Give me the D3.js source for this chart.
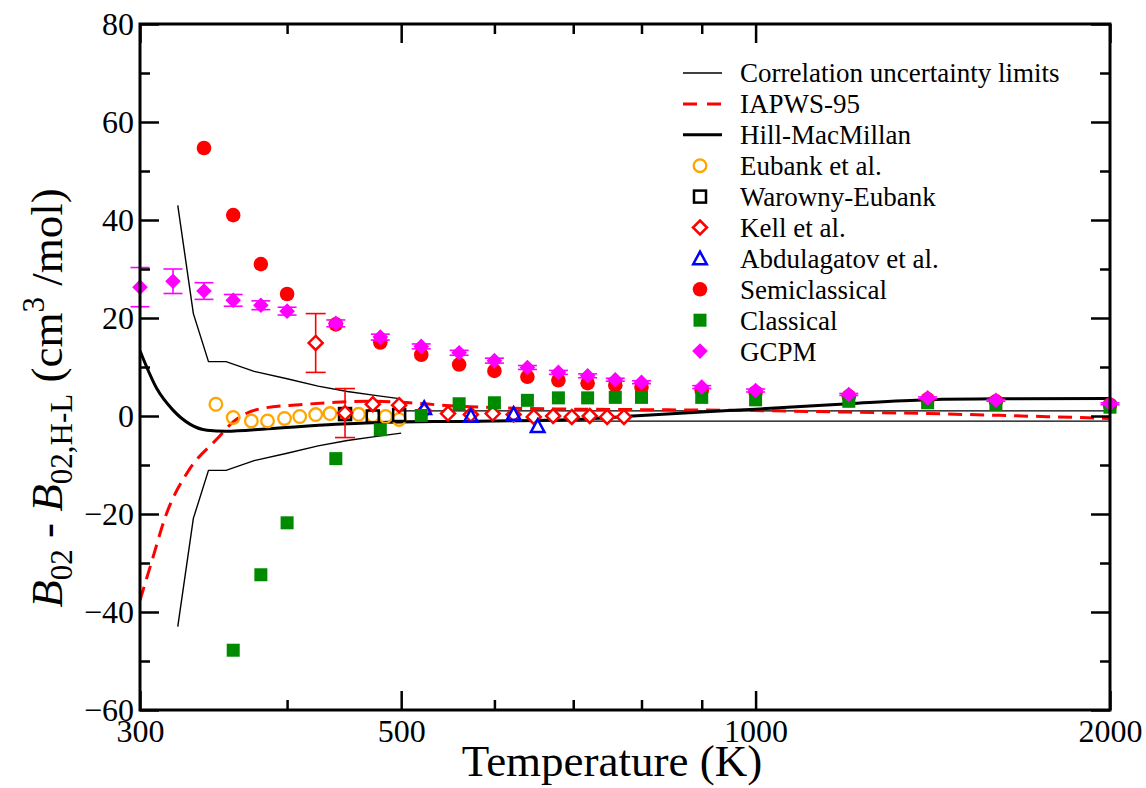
<!DOCTYPE html>
<html>
<head>
<meta charset="utf-8">
<script src="https://cdn.jsdelivr.net/npm/d3@7/dist/d3.min.js"></script>
<style>
  html, body { margin: 0; padding: 0; background: #fff; }
  svg { display: block; }
  text { font-family: "Liberation Serif", "Times New Roman", Times, serif; fill: #000; }
</style>
</head>
<body>
<svg id="chart" width="1146" height="788"></svg>
<script>
// ---------------- data ----------------
const xMajorTicks = [300, 500, 1000, 2000];
const xMinorTicks = [400, 600, 700, 800, 900];
const yMajorTicks = [-60, -40, -20, 0, 20, 40, 60, 80];
const yMinorTicks = [-50, -30, -10, 10, 30, 50, 70];

// Correlation uncertainty limits
const limT1 = [323, 333, 343, 355, 375, 400, 425, 450, 475, 500];
const limUp1 = [43.0, 20.9, 11.1, 11.1, 9.1, 7.6, 6.1, 5.0, 4.2, 3.5];
const limLo1 = [-43.0, -20.9, -11.1, -11.1, -9.1, -7.6, -6.1, -5.0, -4.2, -3.5];
const limT2 = [500, 2000];
const limUp2 = [1.05, 1.05];
const limLo2 = [-1.05, -1.05];

// IAPWS-95
const iapwsT = [300, 306, 316, 330, 349, 360, 380, 410, 440, 470, 500, 550, 600, 700, 800, 1000, 1200, 1400, 1600, 2000];
const iapwsB = [-37.6, -30.8, -19.9, -11.1, -4.6, -1.2, 1.5, 2.3, 2.8, 3.0, 2.8, 2.1, 1.7, 1.4, 1.3, 1.1, 0.8, 0.5, 0.15, -0.5];

// Hill-MacMillan
const hmT = [300, 310, 320, 331, 342, 355, 385, 440, 500, 560, 700, 800, 900, 1000, 1200, 1400, 1600, 2000];
const hmB = [13.3, 5.6, 1.2, -1.7, -2.9, -3.1, -2.6, -1.7, -1.2, -1.1, -0.7, 0.1, 0.8, 1.4, 2.5, 3.3, 3.5, 3.55];

// Eubank et al.
const eubT = [348, 360, 373, 385, 398, 410, 423, 435, 448, 460, 473, 485, 498];
const eubB = [2.4, -0.3, -1.0, -1.0, -0.5, -0.1, 0.3, 0.5, 0.4, 0.35, 0.1, -0.1, -0.7];

// Warowny-Eubank
const warT = [448, 473, 498];
const warB = [0.4, -0.1, 0.2];

// Kell et al.
const kellT = [423, 448, 473, 498, 523, 548, 573, 598, 623, 648, 673, 698, 723, 748, 773];
const kellB = [14.9, 0.6, 2.4, 2.2, 1.0, 0.5, 0.3, 0.5, 0.3, -0.2, 0.0, -0.2, 0.0, -0.2, -0.2];
const kellErr = [6.0, 5.0, 0, 0, 0, 0, 0, 0, 0, 0, 0, 0, 0, 0, 0];

// Abdulagatov et al.
const abdT = [523, 573, 623, 653];
const abdB = [1.6, 0.0, 0.4, -2.1];

// Semiclassical
const semiT = [340, 360, 380, 400, 440, 480, 520, 560, 600, 640, 680, 720, 760, 800, 900, 1000, 1200, 1400, 1600, 2000];
const semiB = [54.7, 41.0, 31.0, 24.9, 18.7, 15.0, 12.5, 10.5, 9.2, 8.0, 7.3, 6.7, 6.3, 5.9, 5.2, 4.8, 4.0, 3.4, 3.0, 2.3];

// Classical
const clT = [360, 380, 400, 440, 480, 520, 560, 600, 640, 680, 720, 760, 800, 900, 1000, 1200, 1400, 1600, 2000];
const clB = [-47.8, -32.4, -21.8, -8.7, -2.8, 0.1, 2.5, 2.7, 3.2, 3.7, 3.7, 3.8, 3.8, 3.8, 3.3, 3.0, 2.7, 2.4, 1.8];

// GCPM
const gcT = [300, 320, 340, 360, 380, 400, 440, 480, 520, 560, 600, 640, 680, 720, 760, 800, 900, 1000, 1200, 1400, 1600, 2000];
const gcB = [26.3, 27.5, 25.5, 23.6, 22.6, 21.4, 18.9, 16.1, 14.2, 12.9, 11.3, 9.9, 8.9, 8.2, 7.4, 6.9, 5.9, 5.2, 4.4, 3.7, 3.2, 2.5];
const gcErr = [4.0, 2.5, 1.7, 1.2, 0.9, 0.8, 0.7, 0.6, 0.5, 0.5, 0.5, 0.4, 0.4, 0.4, 0.3, 0.3, 0.3, 0.3, 0.2, 0.2, 0.2, 0.2];

const legendLabels = ["Correlation uncertainty limits", "IAPWS-95", "Hill-MacMillan", "Eubank et al.",
  "Warowny-Eubank", "Kell et al.", "Abdulagatov et al.", "Semiclassical", "Classical", "GCPM"];

// ---------------- layout ----------------
const L = 140, R = 1110, T = 24, B = 710;
const colors = { orange: "#ffa500", red: "#ff0000", blue: "#0000ff", green: "#008a00", magenta: "#ff00ff", black: "#000" };

const svg = d3.select("#chart");
const x = d3.scaleLog().domain([300, 2000]).range([L, R]);
const y = d3.scaleLinear().domain([-60, 80]).range([B, T]);

const zip = (a, b) => a.map((v, i) => [v, b[i]]);

const plot = svg.append("g");
svg.append("clipPath").attr("id", "clip").append("rect")
  .attr("x", L).attr("y", T).attr("width", R - L).attr("height", B - T);
const lines = plot.append("g").attr("clip-path", "url(#clip)");

// uncertainty limits
const linLine = d3.line().x(d => x(d[0])).y(d => y(d[1]));
[[limT1, limUp1], [limT1, limLo1], [limT2, limUp2], [limT2, limLo2]].forEach(([tt, bb]) => {
  lines.append("path").datum(zip(tt, bb)).attr("d", linLine)
    .attr("fill", "none").attr("stroke", "#000").attr("stroke-width", 1.4);
});

const smooth = d3.line().x(d => x(d[0])).y(d => y(d[1])).curve(d3.curveMonotoneX);
lines.append("path").datum(zip(iapwsT, iapwsB)).attr("d", smooth)
  .attr("fill", "none").attr("stroke", colors.red).attr("stroke-width", 3).attr("stroke-dasharray", "14,8");
lines.append("path").datum(zip(hmT, hmB)).attr("d", smooth)
  .attr("fill", "none").attr("stroke", "#000").attr("stroke-width", 3);

// marker helpers
const diamondPath = r => `M0,${-r}L${r},0L0,${r}L${-r},0Z`;
const trianglePath = r => `M0,${-r}L${r},${r * 0.85}L${-r},${r * 0.85}Z`;

function errorBars(g, tt, bb, ee, color, cap) {
  tt.forEach((t, i) => {
    if (!ee[i]) return;
    const cx = x(t), y1 = y(bb[i] + ee[i]), y2 = y(bb[i] - ee[i]);
    g.append("line").attr("x1", cx).attr("x2", cx).attr("y1", y1).attr("y2", y2)
      .attr("stroke", color).attr("stroke-width", 1.6);
    [y1, y2].forEach(yy => g.append("line").attr("x1", cx - cap).attr("x2", cx + cap).attr("y1", yy).attr("y2", yy)
      .attr("stroke", color).attr("stroke-width", 1.6));
  });
}

const marks = plot.append("g");

// Eubank: open orange circles
marks.append("g").selectAll("circle").data(zip(eubT, eubB)).join("circle")
  .attr("cx", d => x(d[0])).attr("cy", d => y(d[1])).attr("r", 6.3)
  .attr("fill", "none").attr("stroke", colors.orange).attr("stroke-width", 2.3);

// Warowny-Eubank: open black squares
marks.append("g").selectAll("rect").data(zip(warT, warB)).join("rect")
  .attr("x", d => x(d[0]) - 6).attr("y", d => y(d[1]) - 6).attr("width", 12).attr("height", 12)
  .attr("fill", "none").attr("stroke", "#000").attr("stroke-width", 2.5);

// Kell: open red diamonds with error bars
const kg = marks.append("g");
errorBars(kg, kellT, kellB, kellErr, colors.red, 10);
kg.selectAll("path").data(zip(kellT, kellB)).join("path")
  .attr("transform", d => `translate(${x(d[0])},${y(d[1])})`).attr("d", diamondPath(7))
  .attr("fill", "#fff").attr("stroke", colors.red).attr("stroke-width", 2.5);

// Abdulagatov: open blue triangles
marks.append("g").selectAll("path").data(zip(abdT, abdB)).join("path")
  .attr("transform", d => `translate(${x(d[0])},${y(d[1])})`).attr("d", trianglePath(6.8))
  .attr("fill", "none").attr("stroke", colors.blue).attr("stroke-width", 2.5);

// Semiclassical: filled red circles
marks.append("g").selectAll("circle").data(zip(semiT, semiB)).join("circle")
  .attr("cx", d => x(d[0])).attr("cy", d => y(d[1])).attr("r", 7.3)
  .attr("fill", colors.red);

// Classical: filled green squares
marks.append("g").selectAll("rect").data(zip(clT, clB)).join("rect")
  .attr("x", d => x(d[0]) - 6.5).attr("y", d => y(d[1]) - 6.5).attr("width", 13).attr("height", 13)
  .attr("fill", colors.green);

// GCPM: magenta diamonds with error bars
const gg = marks.append("g");
errorBars(gg, gcT, gcB, gcErr, colors.magenta, 9.5);
gg.selectAll("path").data(zip(gcT, gcB)).join("path")
  .attr("transform", d => `translate(${x(d[0])},${y(d[1])})`).attr("d", diamondPath(7.8))
  .attr("fill", colors.magenta);

// ---------------- axes ----------------
const axG = svg.append("g");
function styleAxis(g) {
  g.select(".domain").remove();
  g.selectAll(".tick line").attr("stroke", "#000").attr("stroke-width", 2.5);
}
// bottom
const xb = axG.append("g").attr("transform", `translate(0,${B})`)
  .call(d3.axisBottom(x).tickValues(xMajorTicks).tickSize(-19).tickFormat(d3.format("d")));
styleAxis(xb);
xb.selectAll(".tick text").attr("y", 32).attr("dy", 0).attr("font-size", 32)
  .attr("font-family", "Liberation Serif").attr("fill", "#000");
axG.append("g").attr("transform", `translate(0,${B})`)
  .call(d3.axisBottom(x).tickValues(xMinorTicks).tickSize(-10).tickFormat(""))
  .call(styleAxis);
// top
axG.append("g").attr("transform", `translate(0,${T})`)
  .call(d3.axisTop(x).tickValues(xMajorTicks).tickSize(-19).tickFormat("")).call(styleAxis);
axG.append("g").attr("transform", `translate(0,${T})`)
  .call(d3.axisTop(x).tickValues(xMinorTicks).tickSize(-10).tickFormat("")).call(styleAxis);
// left
const yl = axG.append("g").attr("transform", `translate(${L},0)`)
  .call(d3.axisLeft(y).tickValues(yMajorTicks).tickSize(-19).tickFormat(d3.format("d")));
styleAxis(yl);
yl.selectAll(".tick text").attr("x", -6).attr("dy", "0.34em").attr("font-size", 32)
  .attr("font-family", "Liberation Serif").attr("fill", "#000");
axG.append("g").attr("transform", `translate(${L},0)`)
  .call(d3.axisLeft(y).tickValues(yMinorTicks).tickSize(-10).tickFormat("")).call(styleAxis);
// right
axG.append("g").attr("transform", `translate(${R},0)`)
  .call(d3.axisRight(y).tickValues(yMajorTicks).tickSize(-19).tickFormat("")).call(styleAxis);
axG.append("g").attr("transform", `translate(${R},0)`)
  .call(d3.axisRight(y).tickValues(yMinorTicks).tickSize(-10).tickFormat("")).call(styleAxis);

// frame
svg.append("rect").attr("x", L).attr("y", T).attr("width", R - L).attr("height", B - T)
  .attr("fill", "none").attr("stroke", "#000").attr("stroke-width", 3);

// axis titles
svg.append("text").attr("x", 612).attr("y", 776).attr("text-anchor", "middle")
  .attr("font-size", 45).text("Temperature (K)");

const yt = svg.append("text").attr("transform", "translate(62,398) rotate(-90)")
  .attr("text-anchor", "middle").attr("font-size", 45);
yt.append("tspan").attr("font-style", "italic").text("B");
yt.append("tspan").attr("font-size", 31).attr("dy", 10).text("02");
yt.append("tspan").attr("dy", -10).text("\u00a0-\u00a0");
yt.append("tspan").attr("font-style", "italic").text("B");
yt.append("tspan").attr("font-size", 31).attr("dy", 10).text("02,H-L");
yt.append("tspan").attr("dy", -10).text("\u00a0(cm");
yt.append("tspan").attr("font-size", 31).attr("dy", -18).text("3");
yt.append("tspan").attr("dy", 18).text("\u00a0/mol)");

// ---------------- legend ----------------
const lg = svg.append("g");
const lgX0 = 683, lgX1 = 722, lgXm = 700, lgTx = 740, lgY0 = 73, lgDy = 30.9;
legendLabels.forEach((lab, i) => {
  const yy = lgY0 + i * lgDy;
  lg.append("text").attr("x", lgTx).attr("y", yy).attr("dy", "0.35em").attr("font-size", 27).text(lab);
  const g = lg.append("g");
  if (i === 0) g.append("line").attr("x1", lgX0).attr("x2", lgX1).attr("y1", yy).attr("y2", yy).attr("stroke", "#000").attr("stroke-width", 1.4);
  if (i === 1) g.append("line").attr("x1", lgX0).attr("x2", lgX1).attr("y1", yy).attr("y2", yy).attr("stroke", colors.red).attr("stroke-width", 3).attr("stroke-dasharray", "14,10");
  if (i === 2) g.append("line").attr("x1", lgX0).attr("x2", lgX1).attr("y1", yy).attr("y2", yy).attr("stroke", "#000").attr("stroke-width", 3);
  if (i === 3) g.append("circle").attr("cx", lgXm).attr("cy", yy).attr("r", 6.3).attr("fill", "none").attr("stroke", colors.orange).attr("stroke-width", 2.3);
  if (i === 4) g.append("rect").attr("x", lgXm - 6).attr("y", yy - 6).attr("width", 12).attr("height", 12).attr("fill", "none").attr("stroke", "#000").attr("stroke-width", 2.5);
  if (i === 5) g.append("path").attr("transform", `translate(${lgXm},${yy})`).attr("d", diamondPath(7)).attr("fill", "none").attr("stroke", colors.red).attr("stroke-width", 2.5);
  if (i === 6) g.append("path").attr("transform", `translate(${lgXm},${yy})`).attr("d", trianglePath(6.8)).attr("fill", "none").attr("stroke", colors.blue).attr("stroke-width", 2.5);
  if (i === 7) g.append("circle").attr("cx", lgXm).attr("cy", yy).attr("r", 7.3).attr("fill", colors.red);
  if (i === 8) g.append("rect").attr("x", lgXm - 6.5).attr("y", yy - 6.5).attr("width", 13).attr("height", 13).attr("fill", colors.green);
  if (i === 9) g.append("path").attr("transform", `translate(${lgXm},${yy})`).attr("d", diamondPath(7.8)).attr("fill", colors.magenta);
});
</script>
</body>
</html>
